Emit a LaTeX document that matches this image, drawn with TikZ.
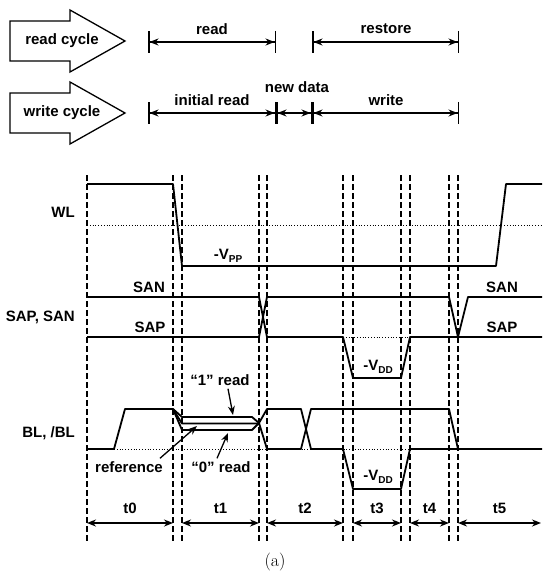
\documentclass[tikz,border=0pt]{standalone}
\usepackage{fontspec}
\setsansfont{Liberation Sans}
\usetikzlibrary{arrows.meta}
\newcommand\lowsub[1]{\raisebox{-2.5pt}{\fontsize{10}{10}\selectfont #1}}

\begin{document}
\begin{tikzpicture}[x=1pt, y=-1pt, >={Stealth[length=9pt,width=7pt]},
    lbl/.style={font=\fontsize{15}{17}\sffamily\bfseries, inner sep=0pt},
    sig/.style={line width=1.8pt, line join=round},
    grid/.style={line width=1.2pt, dash pattern=on 6pt off 3pt},
    lvl/.style={line width=0.8pt, dotted},
    span/.style={line width=1.5pt, <->},
    bspan/.style={line width=1.5pt, {Bar[width=22pt]Stealth[length=9pt,width=7pt]}-{Stealth[length=9pt,width=7pt]Bar[width=22pt]}},
    ptr/.style={line width=1.3pt, ->},
    cyc/.style={line width=1.3pt, line join=miter}]
    \useasboundingbox (0,0) rectangle (542,575);

    % cycle arrows
    \draw[cyc] (10,21) -- (70,21) -- (70,10) -- (125,41) -- (70,72) -- (70,61) -- (10,61) -- cycle;
    \draw[cyc] (10,93) -- (70,93) -- (70,82) -- (125,113) -- (70,144) -- (70,133) -- (10,133) -- cycle;
    \node[lbl] (rcyc) at (62,41) {read cycle};
    \node[lbl] (wcyc) at (62,113) {write cycle};

    \coordinate (ra) at (148,42);  \coordinate (rb) at (276,42);
    \coordinate (sa) at (312,42);  \coordinate (sb) at (459,42);
    \coordinate (wa) at (148,113); \coordinate (wb) at (276,113);
    \coordinate (wc) at (312,113); \coordinate (wd) at (459,113);
    \draw[bspan] (ra) -- (rb);
    \draw[bspan] (sa) -- (sb);
    \draw[bspan] (wa) -- (wb);
    \draw[bspan] (wb) -- (wc);
    \draw[bspan] (wc) -- (wd);
    \node[lbl] (rd) at (212,29) {read};
    \node[lbl] (rst) at (386,29) {restore};
    \node[lbl] (ini) at (212,100) {initial read};
    \node[lbl] (nwd) at (297,87) {new data};
    \node[lbl] (wr) at (386,100) {write};

    % time grid
    \foreach \x in {87,173,182,259,267,343,353,401,410,449,458}
        \draw[grid] (\x,175) -- (\x,542);

    % WL
    \draw[lvl] (87,225) -- (542,225);
    \draw[sig] (87,184) -- (173,184) -- (182,266) -- (496,266) -- (506,184) -- (542,184);
    \node[lbl, anchor=east] (wl) at (75,212) {WL};
    \node[lbl] (vpp) at (228,256) {-V\lowsub{PP}};

    % SAP, SAN
    \draw[lvl] (343,337) -- (410,337);
    \draw[sig] (87,297) -- (259,297) -- (267,337) -- (343,337) -- (353,378) -- (401,378) -- (410,337) -- (542,337);
    \draw[sig] (87,337) -- (259,337) -- (267,297) -- (449,297) -- (458,337) -- (468,297) -- (542,297);
    \node[lbl, anchor=east] (sas) at (75,317) {SAP, SAN};
    \node[lbl] (san1) at (149,287) {SAN};
    \node[lbl] (sap1) at (150,327) {SAP};
    \node[lbl] (san2) at (502,287) {SAN};
    \node[lbl] (sap2) at (502,327) {SAP};
    \node[lbl] (vdd1) at (378,367) {-V\lowsub{DD}};

    % BL, /BL
    \draw[lvl] (114,449) -- (458,449);
    \draw[sig] (87,449) -- (114,449) -- (125,409) -- (173,409) -- (182,417) -- (252,417) -- (259,423) -- (267,409)
        -- (301,409) -- (311,449) -- (343,449) -- (353,489) -- (401,489) -- (410,449) -- (542,449);
    \draw[sig] (173,409) -- (182,430) -- (252,430) -- (259,423) -- (267,449) -- (301,449) -- (311,409) -- (449,409) -- (458,449);
    \draw[sig] (173,409) -- (182,423.5) -- (259,423.5);
    \node[lbl, anchor=east] (bl) at (75,433) {BL, /BL};
    \node[lbl] (vdd2) at (378,477) {-V\lowsub{DD}};
    \node[lbl] (one) at (220,380) {“1” read};
    \node[lbl] (ref) at (129,467) {reference};
    \node[lbl] (zero) at (221,467) {“0” read};
    \coordinate (onetip) at (233,415);
    \coordinate (reftip) at (197,426);
    \coordinate (zerotip) at (228,433);
    \draw[ptr] ([xshift=8pt,yshift=-3pt]one.south) -- (onetip);
    \draw[ptr] ([xshift=-3pt,yshift=3pt]ref.north east) -- (reftip);
    \draw[ptr] ([xshift=-4pt,yshift=3pt]zero.north) -- (zerotip);

    % time spans
    \foreach \a/\b/\t in {87/173/t0, 182/259/t1, 267/343/t2, 353/401/t3, 410/449/t4, 458/541/t5} {
        \node[lbl] (\t) at ({(\a+\b)/2},508) {\t};
        \coordinate (\t a) at (\a,523);
        \coordinate (\t b) at (\b,523);
        \draw[span] (\t a) -- (\t b);
    }

    \node[font=\fontsize{18}{20}\selectfont\rmfamily] (cap) at (275,562) {(a)};
\end{tikzpicture}
\end{document}
